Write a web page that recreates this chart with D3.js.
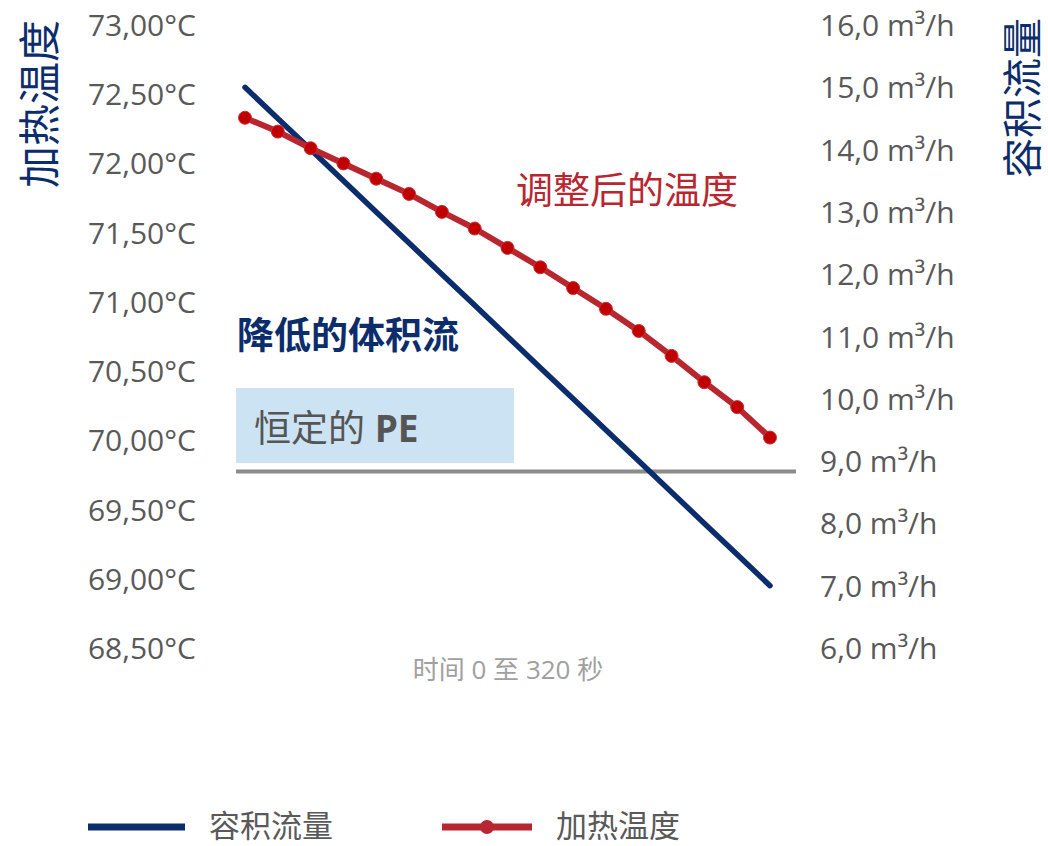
<!DOCTYPE html>
<html>
<head>
<meta charset="utf-8">
<script src="https://cdn.jsdelivr.net/npm/d3@7"></script>
<style>
  body { margin: 0; background: #fff; }
  text { font-family: "Open Sans", "Noto Sans CJK SC", sans-serif; }
</style>
</head>
<body>
<svg id="chart" width="1048" height="846"></svg>
<script>
// Time steps (seconds) across the run
const timeSec = [0, 20, 40, 60, 80, 100, 120, 140, 160, 180, 200, 220, 240, 260, 280, 300, 320];
// Heating temperature after adjustment (°C)
const heatTemp = [72.33, 72.23, 72.11, 72.00, 71.89, 71.78, 71.65, 71.53, 71.39,
                  71.25, 71.10, 70.95, 70.79, 70.61, 70.42, 70.24, 70.02];
// Reduced volume flow (m³/h)
const flowRate = [15.0, 14.5, 14.0, 13.5, 13.0, 12.5, 12.0, 11.5, 11.0,
                  10.5, 10.0, 9.5, 9.0, 8.5, 8.0, 7.5, 7.0];
// Constant PE reference level (°C)
const peLevel = [69.775];
// Axis ticks
const tempTicks = [68.5, 69.0, 69.5, 70.0, 70.5, 71.0, 71.5, 72.0, 72.5, 73.0];
const flowTicks = [6, 7, 8, 9, 10, 11, 12, 13, 14, 15, 16];

const navy = "#0b2d6b";
const red = "#b8262f";
const redDot = "#c00000";
const grey = "#595959";

const svg = d3.select("#chart");

const locale = d3.formatLocale({ decimal: ",", thousands: ".", grouping: [3], currency: ["", ""] });
const fmt2 = locale.format(".2f");
const fmt1 = locale.format(".1f");

const x = d3.scaleLinear().domain([0, 320]).range([245, 770]);
const yT = d3.scaleLinear().domain([68.5, 73.0]).range([648, 25]);
const yF = d3.scaleLinear().domain([6, 16]).range([648, 25]);

// Left axis: temperature
const leftAxis = svg.append("g")
  .attr("transform", "translate(196,0)")
  .call(d3.axisLeft(yT).tickValues(tempTicks).tickSize(0).tickPadding(0)
    .tickFormat(d => fmt2(d) + "°C"));
leftAxis.select(".domain").remove();
leftAxis.selectAll("text")
  .attr("fill", grey).attr("font-size", 30)
  .attr("font-family", "'Open Sans', sans-serif")
  .attr("dy", "0.35em");

// Right axis: volume flow
const rightAxis = svg.append("g")
  .attr("transform", "translate(820,0)")
  .call(d3.axisRight(yF).tickValues(flowTicks).tickSize(0).tickPadding(0)
    .tickFormat(d => fmt1(d) + " m³/h"));
rightAxis.select(".domain").remove();
rightAxis.selectAll("text")
  .attr("fill", grey).attr("font-size", 30)
  .attr("font-family", "'Open Sans', sans-serif")
  .attr("dy", "0.35em");

// Axis titles
svg.append("text")
  .attr("transform", "translate(38,104) rotate(-90)")
  .attr("text-anchor", "middle").attr("dominant-baseline", "central")
  .attr("font-family", "'Noto Sans CJK SC', sans-serif")
  .attr("font-size", 42).attr("fill", navy)
  .text("加热温度");
svg.append("text")
  .attr("transform", "translate(1021,98) rotate(-90)")
  .attr("text-anchor", "middle").attr("dominant-baseline", "central")
  .attr("font-family", "'Noto Sans CJK SC', sans-serif")
  .attr("font-size", 40).attr("fill", navy)
  .text("容积流量");

// Constant PE box and reference line
svg.append("rect")
  .attr("x", 236).attr("y", 388)
  .attr("width", 514 - 236).attr("height", 463 - 388)
  .attr("fill", "#cce3f4");
svg.append("text")
  .attr("x", 254).attr("y", 442)
  .attr("font-size", 37).attr("fill", "#555555")
  .attr("font-family", "'Noto Sans CJK SC', sans-serif")
  .call(t => {
    t.append("tspan").text("恒定的 ");
    t.append("tspan").attr("font-family", "'Open Sans', sans-serif")
      .attr("font-weight", 700).text("PE");
  });
svg.append("line")
  .attr("x1", 236).attr("x2", 796)
  .attr("y1", yT(peLevel[0])).attr("y2", yT(peLevel[0]))
  .attr("stroke", "#8c8c8c").attr("stroke-width", 4);

// Volume flow line
const flowLine = d3.line().x((d, i) => x(timeSec[i])).y(d => yF(d));
svg.append("path")
  .datum(flowRate)
  .attr("d", flowLine)
  .attr("fill", "none").attr("stroke", navy)
  .attr("stroke-width", 5.5).attr("stroke-linecap", "round");

// Temperature line with markers
const tempLine = d3.line().x((d, i) => x(timeSec[i])).y(d => yT(d));
svg.append("path")
  .datum(heatTemp)
  .attr("d", tempLine)
  .attr("fill", "none").attr("stroke", red)
  .attr("stroke-width", 6).attr("stroke-linejoin", "round");
svg.append("g").selectAll("circle")
  .data(heatTemp)
  .join("circle")
  .attr("cx", (d, i) => x(timeSec[i]))
  .attr("cy", d => yT(d))
  .attr("r", 6.5)
  .attr("fill", redDot)
  .attr("stroke", "#c8303a").attr("stroke-width", 1);

// Annotations
svg.append("text")
  .attr("x", 516).attr("y", 204)
  .attr("font-family", "'Noto Sans CJK SC', sans-serif")
  .attr("font-size", 37).attr("fill", red)
  .text("调整后的温度");
svg.append("text")
  .attr("x", 237).attr("y", 349)
  .attr("font-family", "'Noto Sans CJK SC', sans-serif")
  .attr("font-size", 37).attr("font-weight", 600).attr("fill", navy)
  .text("降低的体积流");

// Time range caption
svg.append("text")
  .attr("x", 508).attr("y", 679)
  .attr("text-anchor", "middle")
  .attr("font-size", 26).attr("fill", "#a0a0a0")
  .text("时间 0 至 320 秒");

// Legend
const legend = svg.append("g");
legend.append("line")
  .attr("x1", 88).attr("x2", 185).attr("y1", 827).attr("y2", 827)
  .attr("stroke", navy).attr("stroke-width", 7);
legend.append("text")
  .attr("x", 209).attr("y", 837)
  .attr("font-family", "'Noto Sans CJK SC', sans-serif")
  .attr("font-size", 31).attr("fill", grey)
  .text("容积流量");
legend.append("line")
  .attr("x1", 442).attr("x2", 532).attr("y1", 827).attr("y2", 827)
  .attr("stroke", red).attr("stroke-width", 7);
legend.append("circle")
  .attr("cx", 487).attr("cy", 827).attr("r", 7)
  .attr("fill", red);
legend.append("text")
  .attr("x", 556).attr("y", 837)
  .attr("font-family", "'Noto Sans CJK SC', sans-serif")
  .attr("font-size", 31).attr("fill", grey)
  .text("加热温度");
</script>
</body>
</html>
